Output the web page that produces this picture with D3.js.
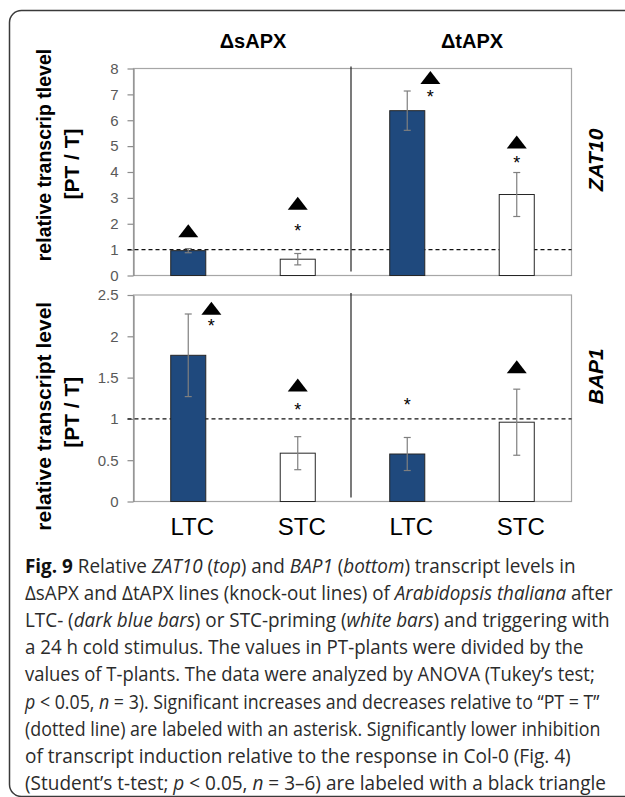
<!DOCTYPE html>
<html>
<head>
<meta charset="utf-8">
<script src="https://cdn.jsdelivr.net/npm/d3@7"></script>
<style>
  body { margin: 0; background: #fff; }
  svg { display: block; }
</style>
</head>
<body>
<script>
// data
const genes = ['ZAT10', 'BAP1']
const lines = ['ΔsAPX', 'ΔtAPX']
const primings = ['LTC', 'STC']

// order: sAPX-LTC, sAPX-STC, tAPX-LTC, tAPX-STC
const zat10Mean = [0.96, 0.63, 6.37, 3.13]
const zat10Err = [0.08, 0.22, 0.76, 0.85]
const zat10Triangle = [1.73, 2.79, 7.65, 5.16]
const zat10Star = [null, 1.83, 7.0, 4.47]

const bap1Mean = [1.77, 0.585, 0.575, 0.96]
const bap1Err = [0.5, 0.2, 0.2, 0.4]
const bap1Triangle = [2.34, 1.41, null, 1.63]
const bap1Star = [2.16, 1.15, 1.2, null]

const zat10Ticks = [0, 1, 2, 3, 4, 5, 6, 7, 8]
const bap1Ticks = [0, 0.5, 1, 1.5, 2, 2.5]
const yTitles = ['relative transcrip tlevel', 'relative transcript level']
const yUnit = '[PT / T]'
const refLevel = 1

const caption = [
  [['Fig. 9', 'b'], [' Relative '], ['ZAT10', 'i'], [' ('], ['top', 'i'], [') and '], ['BAP1', 'i'], [' ('], ['bottom', 'i'], [') transcript levels in']],
  [['ΔsAPX and ΔtAPX lines (knock-out lines) of '], ['Arabidopsis thaliana', 'i'], [' after']],
  [['LTC- ('], ['dark blue bars', 'i'], [') or STC-priming ('], ['white bars', 'i'], [') and triggering with']],
  [['a 24 h cold stimulus. The values in PT-plants were divided by the']],
  [['values of T-plants. The data were analyzed by ANOVA (Tukey’s test;']],
  [['p', 'i'], [' < 0.05, '], ['n', 'i'], [' = 3). Significant increases and decreases relative to “PT = T”']],
  [['(dotted line) are labeled with an asterisk. Significantly lower inhibition']],
  [['of transcript induction relative to the response in Col-0 (Fig. 4)']],
  [['(Student’s t-test; '], ['p', 'i'], [' < 0.05, '], ['n', 'i'], [' = 3–6) are labeled with a black triangle']]
]
const captionEnds = [576, 613, 610, 584, 595, 600, 601, 571, 606]

const width = 625
const height = 797
const left = 133.5
const right = 571.5
const font = '"Liberation Sans", Arial, sans-serif'

const panels = [
  { gene: genes[0], mean: zat10Mean, err: zat10Err, tri: zat10Triangle, star: zat10Star, ticks: zat10Ticks, top: 68.5, bottom: 275.5, title: yTitles[0] },
  { gene: genes[1], mean: bap1Mean, err: bap1Err, tri: bap1Triangle, star: bap1Star, ticks: bap1Ticks, top: 295, bottom: 501.5, title: yTitles[1] }
]

const keys = []
lines.forEach(l => primings.forEach(p => keys.push(l + '|' + p)))

const svg = d3.select('body')
  .append('svg')
  .attr('width', width)
  .attr('height', height)

// outer frame
svg.append('rect')
  .attr('x', 9.5)
  .attr('y', 10.5)
  .attr('width', 700)
  .attr('height', 786)
  .attr('rx', 12)
  .attr('fill', 'none')
  .attr('stroke', '#3a3a3a')
  .attr('stroke-width', 1.5)

const xScale = d3.scaleBand()
  .domain(keys)
  .range([left, right])
  .paddingInner(0.68)
  .paddingOuter(0.34)

const bw = xScale.bandwidth()
const cx = k => xScale(k) + bw / 2
const dividerX = xScale(keys[2]) - xScale.step() * 0.68 / 2 - 1.5

// group titles
lines.forEach((l, i) => {
  const c = (cx(keys[i * 2]) + cx(keys[i * 2 + 1])) / 2 + 10
  svg.append('text')
    .attr('x', c)
    .attr('y', 48)
    .attr('text-anchor', 'middle')
    .style('font-family', font)
    .style('font-weight', 'bold')
    .style('font-size', '20px')
    .text(l)
})

panels.forEach((p, pi) => {
  const y = d3.scaleLinear()
    .domain([0, d3.max(p.ticks)])
    .range([p.bottom, p.top])

  const g = svg.append('g')

  // plot frame
  g.append('rect')
    .attr('x', left)
    .attr('y', p.top)
    .attr('width', right - left)
    .attr('height', p.bottom - p.top)
    .attr('fill', 'none')
    .attr('stroke', '#a6a6a6')
    .attr('stroke-width', 1.2)

  const yAxis = d3.axisLeft(y)
    .tickValues(p.ticks)
    .tickSize(6)
    .tickSizeOuter(0)
    .tickPadding(9)
    .tickFormat(d3.format('~g'))

  const ax = g.append('g')
    .attr('transform', `translate(${left},0)`)
    .call(yAxis)
  ax.select('.domain').attr('stroke', '#8c8c8c').attr('stroke-width', 1.2)
  ax.selectAll('.tick line').attr('stroke', '#8c8c8c').attr('stroke-width', 1.2)
  ax.selectAll('.tick text')
    .attr('fill', '#595959')
    .style('font-family', font)
    .style('font-size', '15px')

  // dashed PT = T line
  g.append('line')
    .attr('x1', left - 6)
    .attr('x2', right)
    .attr('y1', y(refLevel))
    .attr('y2', y(refLevel))
    .attr('stroke', '#111')
    .attr('stroke-width', 1.1)
    .attr('stroke-dasharray', '4,3')

  // divider between lines
  g.append('line')
    .attr('x1', dividerX)
    .attr('x2', dividerX)
    .attr('y1', p.top - 2)
    .attr('y2', p.bottom - 4)
    .attr('stroke', '#222')
    .attr('stroke-width', 1.2)

  const rows = keys.map((k, i) => ({
    key: k,
    priming: k.split('|')[1],
    mean: p.mean[i],
    err: p.err[i],
    tri: p.tri[i],
    star: p.star[i]
  }))

  // bars
  g.selectAll('rect.bar')
    .data(rows)
    .enter()
    .append('rect')
    .attr('class', 'bar')
    .attr('x', d => xScale(d.key))
    .attr('y', d => y(d.mean))
    .attr('width', bw)
    .attr('height', d => y(0) - y(d.mean))
    .attr('fill', d => d.priming === 'LTC' ? '#1f497d' : '#fff')
    .attr('stroke', '#262626')
    .attr('stroke-width', 1)

  // error bars
  const eb = g.selectAll('g.err')
    .data(rows)
    .enter()
    .append('g')
    .attr('class', 'err')
    .attr('stroke', '#7f7f7f')
    .attr('stroke-width', 1.2)
  eb.append('line')
    .attr('x1', d => cx(d.key))
    .attr('x2', d => cx(d.key))
    .attr('y1', d => y(d.mean + d.err))
    .attr('y2', d => y(d.mean - d.err))
  eb.append('line')
    .attr('x1', d => cx(d.key) - 3.5)
    .attr('x2', d => cx(d.key) + 3.5)
    .attr('y1', d => y(d.mean + d.err))
    .attr('y2', d => y(d.mean + d.err))
  eb.append('line')
    .attr('x1', d => cx(d.key) - 3.5)
    .attr('x2', d => cx(d.key) + 3.5)
    .attr('y1', d => y(d.mean - d.err))
    .attr('y2', d => y(d.mean - d.err))

  // markers move aside when the asterisk would sit on the error bar
  const markX = d => {
    const shift = d.star != null && d.star < d.mean + d.err ? bw * 0.66 : 0
    return cx(d.key) + shift
  }

  g.selectAll('path.tri')
    .data(rows.filter(d => d.tri != null))
    .enter()
    .append('path')
    .attr('class', 'tri')
    .attr('d', d => {
      const x0 = markX(d)
      const y0 = y(d.tri)
      return `M${x0 - 10},${y0 + 6.5}L${x0 + 10},${y0 + 6.5}L${x0},${y0 - 6.5}Z`
    })
    .attr('fill', '#000')

  g.selectAll('text.star')
    .data(rows.filter(d => d.star != null))
    .enter()
    .append('text')
    .attr('class', 'star')
    .attr('x', d => markX(d))
    .attr('y', d => y(d.star) + 9)
    .attr('text-anchor', 'middle')
    .style('font-family', font)
    .style('font-size', '18px')
    .text('*')

  // y title
  const mid = (p.top + p.bottom) / 2
  svg.append('text')
    .attr('transform', `translate(51,${mid - (pi === 0 ? 17 : -18)}) rotate(-90)`)
    .attr('text-anchor', 'middle')
    .style('font-family', font)
    .style('font-weight', 'bold')
    .style('font-size', pi === 0 ? '19.5px' : '21px')
    .text(p.title)
  svg.append('text')
    .attr('transform', `translate(79,${mid - (pi === 0 ? 8 : -14)}) rotate(-90)`)
    .attr('text-anchor', 'middle')
    .style('font-family', font)
    .style('font-weight', 'bold')
    .style('font-size', '21px')
    .text(yUnit)

  // gene label on the right
  svg.append('text')
    .attr('transform', `translate(603,${mid + (pi === 0 ? -12 : -22)}) rotate(-90)`)
    .attr('text-anchor', 'middle')
    .style('font-family', font)
    .style('font-weight', 'bold')
    .style('font-style', 'italic')
    .style('font-size', '21px')
    .text(p.gene)
})

// x labels
svg.selectAll('text.xlab')
  .data(keys)
  .enter()
  .append('text')
  .attr('class', 'xlab')
  .attr('x', d => cx(d) + 4)
  .attr('y', 535)
  .attr('text-anchor', 'middle')
  .style('font-family', font)
  .style('font-size', '24px')
  .text(d => d.split('|')[1])

// caption
caption.forEach((segs, i) => {
  const t = svg.append('text')
    .attr('transform', `translate(25,${573 + i * 27.1})`)
    .style('font-family', '"Open Sans", "Noto Sans", sans-serif')
    .style('font-size', '20px')
    .attr('fill', '#2b2b2b')
  segs.forEach(s => {
    const ts = t.append('tspan').text(s[0])
    if (s[1] === 'i') ts.style('font-style', 'italic')
    if (s[1] === 'b') ts.style('font-weight', 'bold').attr('fill', '#111')
  })
  const len = t.node().getComputedTextLength()
  const sx = (captionEnds[i] - 25) / len
  t.attr('transform', `translate(25,${573 + i * 27.1}) scale(${sx},1)`)
})
</script>
</body>
</html>
